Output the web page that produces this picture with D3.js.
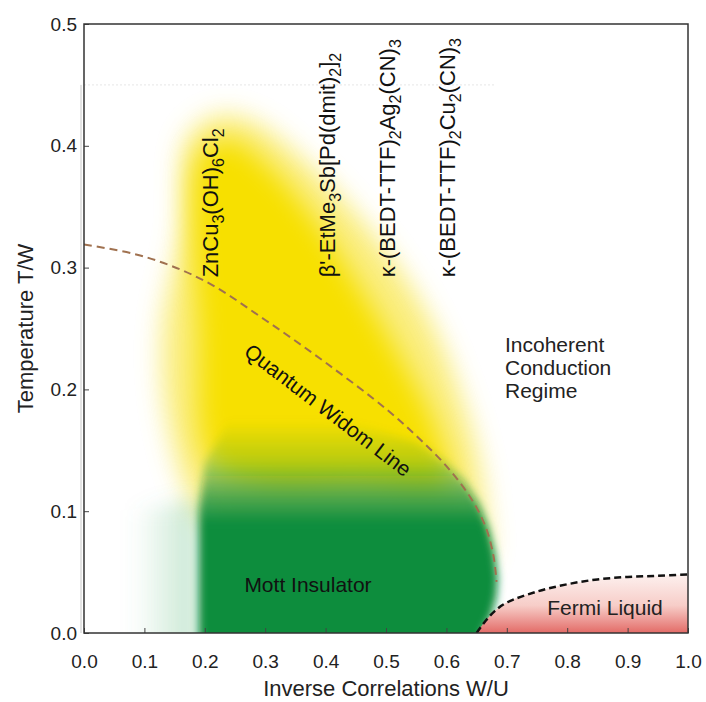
<!DOCTYPE html>
<html>
<head>
<meta charset="utf-8">
<script src="https://cdn.jsdelivr.net/npm/d3@7"></script>
<style>
  body { margin: 0; background: #fff; }
  text { font-family: "Liberation Sans", Arial, sans-serif; }
</style>
</head>
<body>
<svg id="chart" width="706" height="702"></svg>
<script>
// tick values
const xTicks = [0, 0.1, 0.2, 0.3, 0.4, 0.5, 0.6, 0.7, 0.8, 0.9, 1.0];
const yTicks = [0, 0.1, 0.2, 0.3, 0.4, 0.5];

// phase boundaries, [W/U, T/W]
const widomLine = [[0, 0.319], [0.1, 0.309], [0.2, 0.289], [0.3, 0.257], [0.4, 0.222], [0.5, 0.184],
  [0.55, 0.162], [0.6, 0.137], [0.64, 0.111], [0.665, 0.087], [0.678, 0.063], [0.683, 0.042]];
const fermiLine = [[0.65, 0], [0.665, 0.01], [0.68, 0.018], [0.70, 0.025], [0.75, 0.034], [0.80, 0.040],
  [0.85, 0.044], [0.90, 0.046], [0.95, 0.047], [1.0, 0.048]];
const mottRegion = [[0.19, -0.03], [0.19, 0.1], [0.2, 0.14], [0.24, 0.175], [0.3, 0.178], [0.45, 0.172],
  [0.55, 0.157], [0.6, 0.14], [0.63, 0.125], [0.655, 0.105], [0.67, 0.085], [0.68, 0.065],
  [0.685, 0.045], [0.683, 0.03], [0.675, 0.015], [0.66, 0], [0.655, -0.03]];
const mottHaze = [[0.08, -0.03], [0.08, 0.1], [0.19, 0.11], [0.19, -0.03]];
const yellowOuter = [[0.17, 0.405], [0.22, 0.425], [0.28, 0.42], [0.36, 0.39], [0.44, 0.35], [0.52, 0.3],
  [0.58, 0.25], [0.62, 0.2], [0.65, 0.15], [0.665, 0.1], [0.665, 0.06], [0.6, 0.05], [0.3, 0.06],
  [0.19, 0.1], [0.14, 0.17], [0.13, 0.25], [0.16, 0.33]];
const yellowCore = [[0.19, 0.39], [0.24, 0.405], [0.3, 0.385], [0.38, 0.34], [0.46, 0.28], [0.53, 0.22],
  [0.58, 0.17], [0.6, 0.12], [0.45, 0.12], [0.3, 0.12], [0.21, 0.14], [0.19, 0.25]];

// compounds: position on W/U axis, label parts [text, isSub]
const compounds = [
  {x: 0.2, parts: [["ZnCu", 0], ["3", 1], ["(OH)", 0], ["6", 1], ["Cl", 0], ["2", 1]]},
  {x: 0.4, parts: [["β'-EtMe", 0], ["3", 1], ["Sb[Pd(dmit)", 0], ["2", 1], ["]", 0], ["2", 1]]},
  {x: 0.5, parts: [["κ-(BEDT-TTF)", 0], ["2", 1], ["Ag", 0], ["2", 1], ["(CN)", 0], ["3", 1]]},
  {x: 0.6, parts: [["κ-(BEDT-TTF)", 0], ["2", 1], ["Cu", 0], ["2", 1], ["(CN)", 0], ["3", 1]]}
];

const m = {left: 84, right: 688, top: 24, bottom: 633};
const x = d3.scaleLinear().domain([0, 1]).range([m.left, m.right]);
const y = d3.scaleLinear().domain([0, 0.5]).range([m.bottom, m.top]);

const svg = d3.select("#chart");
const defs = svg.append("defs");

defs.append("clipPath").attr("id", "plotClip")
  .append("rect").attr("x", m.left).attr("y", m.top)
  .attr("width", m.right - m.left).attr("height", m.bottom - m.top);

function blur(id, s) {
  defs.append("filter").attr("id", id)
    .attr("filterUnits", "userSpaceOnUse")
    .attr("x", 0).attr("y", 0).attr("width", 706).attr("height", 702)
    .append("feGaussianBlur").attr("stdDeviation", s);
}
blur("blurBig", 13);
blur("blurMid", 10);
blur("blurSmall", 4);

// vertical fade on the Mott region
const gGreen = defs.append("linearGradient").attr("id", "greenFade")
  .attr("gradientUnits", "userSpaceOnUse")
  .attr("x1", 0).attr("x2", 0).attr("y1", y(0.175)).attr("y2", y(0.09));
[[0, 0], [0.4, 0.25], [0.75, 0.72], [1, 1]].forEach(s =>
  gGreen.append("stop").attr("offset", s[0]).attr("stop-color", "#0f8d3d").attr("stop-opacity", s[1]));

const gHaze = defs.append("linearGradient").attr("id", "greenHaze")
  .attr("gradientUnits", "userSpaceOnUse")
  .attr("x1", x(0.08)).attr("x2", x(0.19)).attr("y1", 0).attr("y2", 0);
gHaze.append("stop").attr("offset", 0).attr("stop-color", "#5ab878").attr("stop-opacity", 0);
gHaze.append("stop").attr("offset", 1).attr("stop-color", "#5ab878").attr("stop-opacity", 0.35);

const gFermi = defs.append("linearGradient").attr("id", "fermiFade")
  .attr("gradientUnits", "userSpaceOnUse")
  .attr("x1", 0).attr("x2", 0).attr("y1", y(0.05)).attr("y2", y(0));
gFermi.append("stop").attr("offset", 0).attr("stop-color", "#fdf3f1");
gFermi.append("stop").attr("offset", 0.55).attr("stop-color", "#f7cdc8");
gFermi.append("stop").attr("offset", 1).attr("stop-color", "#e36b67");

const area = d3.line().x(d => x(d[0])).y(d => y(d[1])).curve(d3.curveCatmullRomClosed);
const poly = d3.line().x(d => x(d[0])).y(d => y(d[1])).curve(d3.curveLinearClosed);
const curve = d3.line().x(d => x(d[0])).y(d => y(d[1])).curve(d3.curveCatmullRom);

const plot = svg.append("g").attr("clip-path", "url(#plotClip)");

// faint frame remnant
plot.append("line")
  .attr("x1", x(0)).attr("x2", x(0.68)).attr("y1", y(0.45)).attr("y2", y(0.45))
  .attr("stroke", "#e6e6e6").attr("stroke-dasharray", "2,2");

plot.append("path").attr("d", area(yellowOuter))
  .attr("fill", "#f9ea66").attr("opacity", 0.85).attr("filter", "url(#blurBig)");
plot.append("path").attr("d", area(yellowCore))
  .attr("fill", "#f7e000").attr("filter", "url(#blurBig)");

plot.append("path").attr("d", poly(mottHaze))
  .attr("fill", "url(#greenHaze)").attr("filter", "url(#blurMid)");
plot.append("path").attr("d", poly(mottRegion))
  .attr("fill", "url(#greenFade)").attr("filter", "url(#blurSmall)");

// Fermi liquid region
plot.append("path")
  .attr("d", curve(fermiLine) + `L${x(1)},${y(0)}Z`)
  .attr("fill", "url(#fermiFade)");

plot.append("path").attr("d", curve(widomLine))
  .attr("fill", "none").attr("stroke", "#a0714f").attr("stroke-width", 2)
  .attr("stroke-dasharray", "8,5");
plot.append("path").attr("d", curve(fermiLine))
  .attr("fill", "none").attr("stroke", "#111").attr("stroke-width", 2.5)
  .attr("stroke-dasharray", "7,4");

// secondary left line
svg.append("line")
  .attr("x1", m.left - 3).attr("x2", m.left - 3).attr("y1", y(0.45)).attr("y2", m.bottom)
  .attr("stroke", "#c8c8c8").attr("stroke-width", 1);

// axes
const xAxis = svg.append("g").attr("transform", `translate(0,${m.bottom})`)
  .call(d3.axisBottom(x).tickValues(xTicks).tickFormat(d3.format(".1f")).tickSize(-5).tickPadding(22));
const yAxis = svg.append("g").attr("transform", `translate(${m.left},0)`)
  .call(d3.axisLeft(y).tickValues(yTicks).tickFormat(d3.format(".1f")).tickSize(-5).tickPadding(7));
[xAxis, yAxis].forEach(a => {
  a.select(".domain").remove();
  a.selectAll(".tick line").attr("stroke", "#444");
  a.selectAll("text").attr("font-size", 19).attr("fill", "#222")
    .attr("font-family", "'Liberation Sans', Arial, sans-serif");
});

svg.append("rect").attr("x", m.left).attr("y", m.top)
  .attr("width", m.right - m.left).attr("height", m.bottom - m.top)
  .attr("fill", "none").attr("stroke", "#333").attr("stroke-width", 1.5);

// axis titles
svg.append("text").attr("x", (m.left + m.right) / 2).attr("y", 696)
  .attr("text-anchor", "middle").attr("font-size", 22).attr("fill", "#222")
  .text("Inverse Correlations W/U");
svg.append("text").attr("transform", `translate(33,${(m.top + m.bottom) / 2}) rotate(-90)`)
  .attr("text-anchor", "middle").attr("font-size", 22).attr("fill", "#222")
  .text("Temperature T/W");

// compound labels
compounds.forEach((c, i) => {
  const t = svg.append("text")
    .attr("transform", `translate(${x(c.x) + (i === 0 ? 13 : 9)},${y(0.292)}) rotate(-90)`)
    .attr("font-size", 22).attr("fill", "#111");
  let sub = false;
  c.parts.forEach(p => {
    const s = t.append("tspan").text(p[0]);
    if (p[1] && !sub) { s.attr("dy", 6).attr("font-size", 16); sub = true; }
    else if (!p[1] && sub) { s.attr("dy", -6); sub = false; }
    else if (p[1]) s.attr("font-size", 16);
  });
});

// region labels
svg.append("text")
  .attr("transform", `translate(328,410) rotate(37.4)`)
  .attr("text-anchor", "middle").attr("dy", "0.35em")
  .attr("font-size", 21).attr("fill", "#111").text("Quantum Widom Line");
svg.append("text").attr("x", 308).attr("y", 592).attr("text-anchor", "middle")
  .attr("font-size", 21).attr("fill", "#111").text("Mott Insulator");
svg.append("text").attr("x", 605).attr("y", 615).attr("text-anchor", "middle")
  .attr("font-size", 21).attr("fill", "#222").text("Fermi Liquid");
["Incoherent", "Conduction", "Regime"].forEach((s, i) => {
  svg.append("text").attr("x", 505).attr("y", 352 + i * 23)
    .attr("font-size", 21).attr("fill", "#222").text(s);
});
</script>
</body>
</html>
